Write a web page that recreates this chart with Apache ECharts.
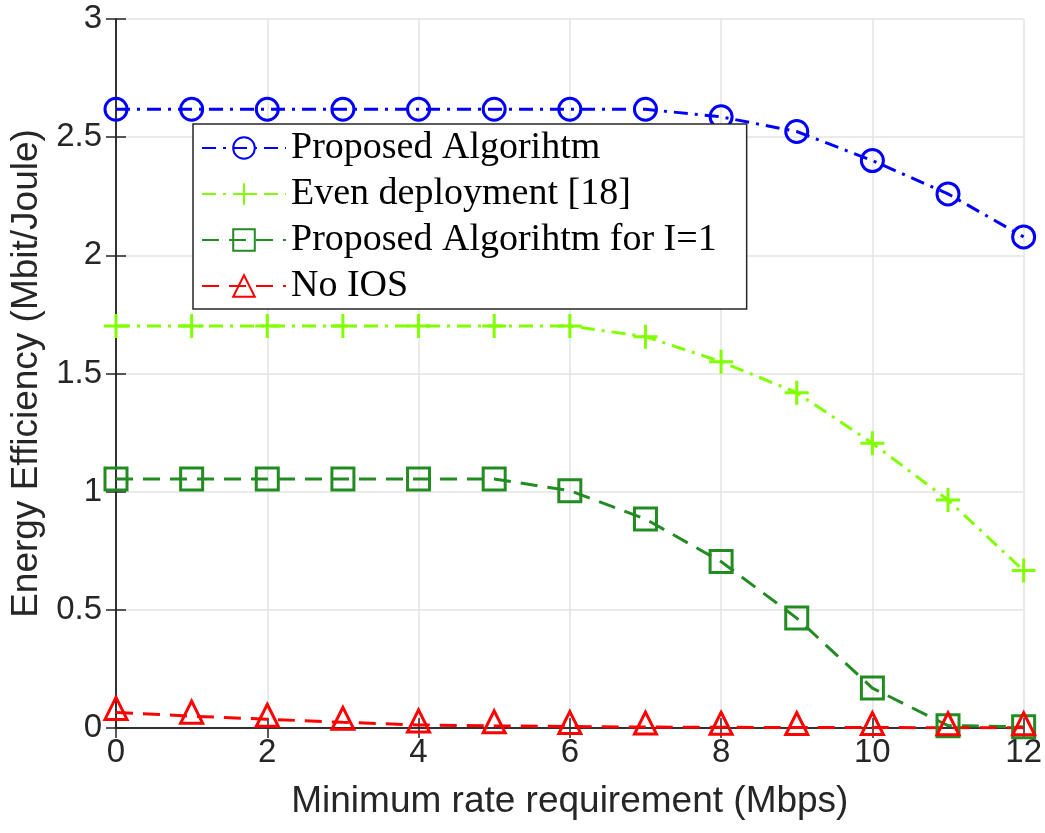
<!DOCTYPE html>
<html>
<head>
<meta charset="utf-8">
<script src="https://cdn.jsdelivr.net/npm/echarts@6/dist/echarts.min.js"></script>
<style>
  html, body { margin: 0; padding: 0; background: #ffffff; }
  #chart { width: 1045px; height: 833px; }
</style>
</head>
<body>
<div id="chart"></div>
<script>
// Minimum rate requirement (Mbps)
const rates = [0, 1, 2, 3, 4, 5, 6, 7, 8, 9, 10, 11, 12];

// Energy efficiency (Mbit/Joule) for each scheme
const proposed   = [2.618, 2.618, 2.618, 2.618, 2.618, 2.618, 2.618, 2.618, 2.586, 2.524, 2.401, 2.260, 2.078];
const evenDeploy = [1.701, 1.701, 1.701, 1.701, 1.701, 1.701, 1.701, 1.656, 1.550, 1.419, 1.205, 0.965, 0.666];
const proposedI1 = [1.054, 1.054, 1.054, 1.054, 1.054, 1.054, 1.004, 0.884, 0.704, 0.465, 0.169, 0.010, 0.005];
const noIOS      = [0.066, 0.050, 0.037, 0.024, 0.013, 0.009, 0.006, 0.004, 0.003, 0.002, 0.002, 0.001, 0.001];

const seriesNames = ['Proposed Algorihtm', 'Even deployment [18]', 'Proposed Algorihtm for I=1', 'No IOS'];

const xName = 'Minimum rate requirement (Mbps)';
const yName = 'Energy Efficiency (Mbit/Joule)';

const AXIS = '#262626';
const GRID = '#e3e3e3';
const SANS = 'Liberation Sans, Arial, Helvetica, sans-serif';
const SERIF = 'Liberation Serif, Times New Roman, serif';

const DASH_DOT = [14, 7, 3, 7];
const DASHED = [17, 10];

const pairs = arr => rates.map((r, i) => [r, arr[i]]);

function lineSeries(name, data, color, symbol, dash, extra) {
  return Object.assign({
    name: name,
    type: 'line',
    data: pairs(data),
    symbol: symbol,
    symbolSize: 22,
    showAllSymbol: true,
    animation: false,
    lineStyle: { color: color, width: 3, type: dash },
    itemStyle: { color: 'rgba(0,0,0,0)', borderColor: color, borderWidth: 3 },
    emphasis: { disabled: true }
  }, extra || {});
}

const chart = echarts.init(document.getElementById('chart'), null, { renderer: 'canvas' });

const sideAxis = {
  axisLine: { show: true, lineStyle: { color: AXIS, width: 1.5 } },
  axisTick: { show: true, inside: true, length: 10, lineStyle: { color: AXIS, width: 1.5 } },
  axisLabel: { show: false },
  splitLine: { show: false }
};

chart.setOption({
  backgroundColor: '#ffffff',
  animation: false,
  grid: { left: 116, right: 21, top: 19, bottom: 105, containLabel: false },
  xAxis: [
    {
      type: 'value', min: 0, max: 12, interval: 2,
      name: xName, nameLocation: 'middle', nameGap: 55,
      nameTextStyle: { fontFamily: SANS, fontSize: 37, color: AXIS },
      axisLine: { show: true, onZero: false, lineStyle: { color: AXIS, width: 1.5 } },
      axisTick: { show: true, inside: true, length: 10, lineStyle: { color: AXIS, width: 1.5 } },
      axisLabel: { fontFamily: SANS, fontSize: 33, color: AXIS, margin: 8 },
      splitLine: { show: true, lineStyle: { color: GRID, width: 1.5 } }
    },
    Object.assign({ type: 'value', position: 'top', min: 0, max: 12, interval: 2 }, sideAxis)
  ],
  yAxis: [
    {
      type: 'value', min: 0, max: 3, interval: 0.5,
      name: yName, nameLocation: 'middle', nameGap: 68,
      nameTextStyle: { fontFamily: SANS, fontSize: 37, color: AXIS },
      axisLine: { show: true, onZero: false, lineStyle: { color: AXIS, width: 1.5 } },
      axisTick: { show: true, inside: true, length: 10, lineStyle: { color: AXIS, width: 1.5 } },
      axisLabel: { fontFamily: SANS, fontSize: 33, color: AXIS, margin: 14 },
      splitLine: { show: true, lineStyle: { color: GRID, width: 1.5 } }
    },
    Object.assign({ type: 'value', position: 'right', min: 0, max: 3, interval: 0.5 }, sideAxis)
  ],
  legend: {
    orient: 'vertical',
    left: 193, top: 124,
    itemWidth: 84, itemHeight: 27, itemGap: 2,
    padding: [2, 30, 1, 8],
    backgroundColor: '#ffffff',
    borderColor: AXIS, borderWidth: 1.5,
    textStyle: { fontFamily: SERIF, fontSize: 38, color: '#000000', lineHeight: 44 },
    data: seriesNames
  },
  series: [
    lineSeries(seriesNames[0], proposed, '#0000ff', 'circle', DASH_DOT),
    lineSeries(seriesNames[1], evenDeploy, '#80ff00', 'path://M10,0L10,20M0,10L20,10', DASH_DOT, { symbolSize: 24 }),
    lineSeries(seriesNames[2], proposedI1, '#228b22', 'rect', DASHED),
    lineSeries(seriesNames[3], noIOS, '#ff0000', 'triangle', DASHED, { symbolOffset: [0, -4] })
  ]
});
</script>
</body>
</html>
